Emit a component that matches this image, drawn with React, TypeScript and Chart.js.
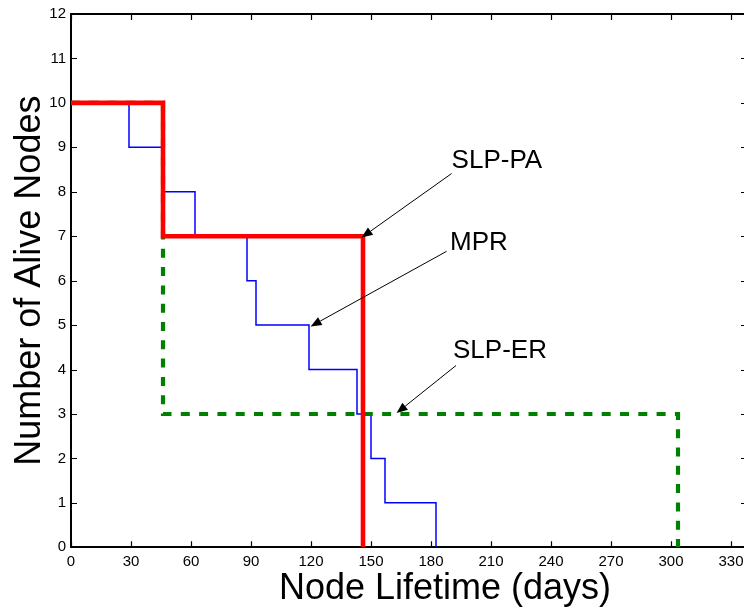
import React, { useEffect, useRef } from 'react';
import { Chart, registerables } from 'chart.js';

Chart.register(...registerables);

// ---- data ----
const mprDays = [0, 29, 46, 62, 88, 92.5, 119, 143, 150, 157, 182.5];
const mprAlive = [10, 9, 8, 7, 6, 5, 4, 3, 2, 1, 0];
const slpPaDays = [0, 46, 146];
const slpPaAlive = [10, 7, 0];
const slpErDays = [0, 46, 303.5];
const slpErAlive = [10, 3, 0];

const xMin = 0;
const xMax = 338;
const xStep = 30;
const yMin = 0;
const yMax = 12;
const yStep = 1;

const xTitle = 'Node Lifetime (days)';
const yTitle = 'Number of Alive Nodes';

// annotations (data coordinates)
const noteTexts = ['SLP-PA', 'MPR', 'SLP-ER'];
const noteTextX = [190.3, 189.5, 191];
const noteTextY = [8.54, 6.7, 4.25];
const noteTailX = [190.3, 187.8, 192.5];
const noteTailY = [8.41, 6.66, 4.09];
const noteTipX = [145.3, 119.8, 162.8];
const noteTipY = [6.97, 4.97, 3.02];

const xTitleCenterDay = 187;

const FONT = "'Liberation Sans', Arial, Helvetica, sans-serif";

function pts(xs: number[], ys: number[]) {
  return xs.map((x, i) => ({ x, y: ys[i] }));
}

const framePlugin = {
  id: 'frame',
  beforeDatasetsDraw(chart: any) {
    const { ctx, chartArea } = chart;
    const { left, right, top, bottom } = chartArea;
    const xs = chart.scales.x;
    const ys = chart.scales.y;
    ctx.save();
    ctx.strokeStyle = '#000';
    ctx.lineWidth = 2;
    ctx.beginPath();
    ctx.moveTo(left, top);
    ctx.lineTo(right, top);
    ctx.stroke();
    ctx.lineWidth = 1.2;
    ctx.beginPath();
    const tl = 6;
    for (const t of xs.ticks) {
      const px = Math.round(xs.getPixelForValue(t.value)) + 0.5;
      ctx.moveTo(px, bottom);
      ctx.lineTo(px, bottom - tl);
      ctx.moveTo(px, top);
      ctx.lineTo(px, top + tl);
    }
    for (const t of ys.ticks) {
      const py = Math.round(ys.getPixelForValue(t.value)) + 0.5;
      ctx.moveTo(left, py);
      ctx.lineTo(left + tl, py);
      ctx.moveTo(right, py);
      ctx.lineTo(right - tl, py);
    }
    ctx.stroke();
    ctx.restore();
  },
};

const notesPlugin = {
  id: 'notes',
  afterDatasetsDraw(chart: any) {
    const { ctx } = chart;
    const xs = chart.scales.x;
    const ys = chart.scales.y;
    ctx.save();
    ctx.fillStyle = '#000';
    ctx.strokeStyle = '#000';
    ctx.lineWidth = 1;
    ctx.font = `26px ${FONT}`;
    ctx.textAlign = 'left';
    ctx.textBaseline = 'alphabetic';
    for (let i = 0; i < noteTexts.length; i++) {
      ctx.fillText(noteTexts[i], xs.getPixelForValue(noteTextX[i]), ys.getPixelForValue(noteTextY[i]));
      const x0 = xs.getPixelForValue(noteTailX[i]);
      const y0 = ys.getPixelForValue(noteTailY[i]);
      const x1 = xs.getPixelForValue(noteTipX[i]);
      const y1 = ys.getPixelForValue(noteTipY[i]);
      const ang = Math.atan2(y1 - y0, x1 - x0);
      const hl = 11;
      const hw = 4.5;
      const bx = x1 - hl * Math.cos(ang);
      const by = y1 - hl * Math.sin(ang);
      ctx.beginPath();
      ctx.moveTo(x0, y0);
      ctx.lineTo(bx, by);
      ctx.stroke();
      ctx.beginPath();
      ctx.moveTo(x1, y1);
      ctx.lineTo(bx + hw * Math.sin(ang), by - hw * Math.cos(ang));
      ctx.lineTo(bx - hw * Math.sin(ang), by + hw * Math.cos(ang));
      ctx.closePath();
      ctx.fill();
    }
    ctx.restore();
  },
};

const xTitlePlugin = {
  id: 'xTitle',
  afterDraw(chart: any) {
    const { ctx, chartArea } = chart;
    const xs = chart.scales.x;
    ctx.save();
    ctx.fillStyle = '#000';
    ctx.font = `36px ${FONT}`;
    ctx.textAlign = 'center';
    ctx.textBaseline = 'alphabetic';
    ctx.fillText(xTitle, xs.getPixelForValue(xTitleCenterDay), chartArea.bottom + 52);
    ctx.restore();
  },
};

export default function App() {
  const ref = useRef<HTMLCanvasElement>(null);
  useEffect(() => {
    if (!ref.current) return;
    Chart.defaults.font.family = FONT;
    const common = {
      stepped: 'before' as const,
      pointRadius: 0,
      fill: false,
      borderJoinStyle: 'miter' as const,
      borderCapStyle: 'butt' as const,
      tension: 0,
    };
    const chart = new Chart(ref.current, {
      type: 'line',
      data: {
        datasets: [
          { ...common, label: 'SLP-PA', data: pts(slpPaDays, slpPaAlive), borderColor: '#ff0000', borderWidth: 4.6, order: 1 },
          { ...common, label: 'SLP-ER', data: pts(slpErDays, slpErAlive), borderColor: '#008000', borderWidth: 4.2, borderDash: [9, 9.3], order: 2 },
          { ...common, label: 'MPR', data: pts(mprDays, mprAlive), borderColor: '#0000ff', borderWidth: 1.5, order: 3 },
        ],
      },
      options: {
        animation: false,
        responsive: false,
        devicePixelRatio: 1,
        layout: { padding: { top: 13, right: 5, left: 0, bottom: 0 } },
        plugins: { legend: { display: false }, tooltip: { enabled: false }, title: { display: false } },
        scales: {
          x: {
            type: 'linear',
            min: xMin,
            max: xMax,
            ticks: {
              stepSize: xStep,
              includeBounds: false,
              color: '#000',
              font: { size: 15, family: FONT },
              padding: 6,
              maxRotation: 0,
              autoSkip: false,
            },
            grid: { display: false, drawTicks: false },
            border: { display: true, color: '#000', width: 2 },
            afterFit: (s: any) => {
              s.height = 66.7;
            },
          },
          y: {
            type: 'linear',
            min: yMin,
            max: yMax,
            ticks: {
              stepSize: yStep,
              color: '#000',
              font: { size: 15, family: FONT },
              padding: 5,
              autoSkip: false,
            },
            grid: { display: false, drawTicks: false },
            border: { display: true, color: '#000', width: 2 },
            title: {
              display: true,
              text: yTitle,
              color: '#000',
              font: { size: 36, family: FONT },
              padding: { top: 8, bottom: 0 },
            },
            afterFit: (s: any) => {
              s.width = 71;
            },
          },
        },
      },
      plugins: [framePlugin, notesPlugin, xTitlePlugin],
    } as any);
    return () => chart.destroy();
  }, []);
  return (
    <div style={{ position: 'fixed', left: 0, top: 0, width: 744, height: 614, overflow: 'hidden', background: '#fff' }}>
      <canvas ref={ref} width={752} height={614} style={{ display: 'block', width: 752, height: 614 }} />
    </div>
  );
}
